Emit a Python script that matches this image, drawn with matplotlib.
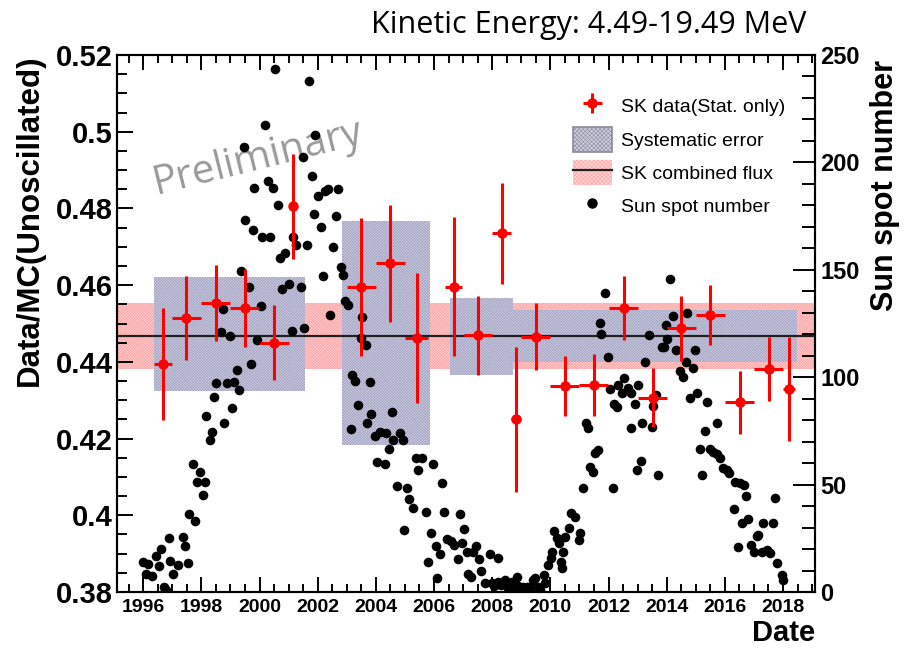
import numpy as np
import matplotlib.pyplot as plt
from matplotlib.patches import Patch
from matplotlib.lines import Line2D
from matplotlib.ticker import MultipleLocator, FuncFormatter, FormatStrFormatter

plt.rcParams['font.family'] = 'Liberation Sans'
plt.rcParams['hatch.linewidth'] = 0.4

# ==========================================
# Data
# ==========================================

# SK yearly points (stat. errors only)
sk_year = [1996.67, 1997.48, 1998.49, 1999.49, 2000.50, 2001.15, 2003.50, 2004.49,
           2005.41, 2006.67, 2007.51, 2008.33, 2008.83, 2009.50, 2010.49, 2011.49,
           2012.52, 2013.52, 2014.50, 2015.50, 2016.51, 2017.51, 2018.21]
sk_val = [0.4394, 0.4514, 0.4553, 0.4541, 0.4450, 0.4806, 0.4596, 0.4657,
          0.4463, 0.4596, 0.4470, 0.4735, 0.4250, 0.4466, 0.4337, 0.4340,
          0.4540, 0.4307, 0.4487, 0.4522, 0.4295, 0.4381, 0.4329]
sk_err = [0.0146, 0.0110, 0.0099, 0.0101, 0.0097, 0.0137, 0.0180, 0.0153,
          0.0169, 0.0182, 0.0103, 0.0132, 0.0190, 0.0087, 0.0078, 0.0080,
          0.0083, 0.0077, 0.0085, 0.0078, 0.0082, 0.0083, 0.0135]
sk_xerr = [0.31, 0.5, 0.5, 0.5, 0.5, 0.12, 0.5, 0.5,
           0.40, 0.29, 0.48, 0.33, 0.17, 0.5, 0.5, 0.5,
           0.5, 0.5, 0.5, 0.5, 0.5, 0.5, 0.2]

# systematic error boxes (SK-I .. SK-IV)
sys_start = [1996.36, 2002.83, 2006.54, 2008.71]
sys_end = [2001.57, 2005.87, 2008.71, 2018.48]
sys_lo = [0.4325, 0.4183, 0.4366, 0.4400]
sys_hi = [0.4622, 0.4768, 0.4567, 0.4535]

# combined flux and its band
flux = 0.4467
flux_lo, flux_hi = 0.4381, 0.4553

# monthly sun spot number
ss_year = [1995.99, 1996.10, 1996.18, 1996.30, 1996.45, 1996.53, 1996.62, 1996.72, 1996.79, 1996.87,
           1996.93, 1997.02, 1997.19, 1997.37, 1997.45, 1997.53, 1997.59, 1997.71, 1997.79, 1997.85,
           1997.96, 1998.05, 1998.13, 1998.17, 1998.28, 1998.36, 1998.44, 1998.51, 1998.67, 1998.74,
           1998.79, 1998.88, 1998.99, 1999.05, 1999.11, 1999.22, 1999.31, 1999.36, 1999.45, 1999.51,
           1999.65, 1999.70, 1999.77, 1999.80, 1999.91, 2000.05, 2000.10, 2000.20, 2000.28, 2000.37,
           2000.45, 2000.54, 2000.63, 2000.71, 2000.77, 2000.86, 2001.00, 2001.11, 2001.14,
           2001.27, 2001.41, 2001.48, 2001.53, 2001.62, 2001.71, 2001.79, 2001.87, 2001.90, 2002.02,
           2002.13, 2002.19, 2002.25, 2002.36, 2002.44, 2002.53, 2002.63, 2002.71, 2002.79, 2002.88,
           2002.94, 2003.05, 2003.13, 2003.17, 2003.28, 2003.37, 2003.48, 2003.54, 2003.66, 2003.70,
           2003.80, 2003.85, 2003.97, 2004.05, 2004.14, 2004.31, 2004.35, 2004.46, 2004.54, 2004.60,
           2004.71, 2004.83, 2004.92, 2004.97, 2005.06, 2005.15, 2005.29, 2005.38, 2005.46, 2005.57,
           2005.72, 2005.80, 2005.88, 2005.97, 2006.07, 2006.11, 2006.20, 2006.29, 2006.34, 2006.43,
           2006.60, 2006.68, 2006.83, 2006.89, 2006.95, 2007.03, 2007.12, 2007.18,
           2007.27, 2007.35, 2007.46, 2007.54, 2007.61, 2007.75, 2007.92, 2007.98, 2008.05, 2008.19,
           2008.21, 2008.32, 2008.44, 2008.55, 2008.67, 2008.78, 2008.84, 2008.90, 2008.95, 2009.07,
           2009.18, 2009.30, 2009.41, 2009.47, 2009.58, 2009.64, 2009.79, 2009.81, 2009.93, 2010.02,
           2010.07, 2010.13, 2010.22, 2010.30, 2010.36, 2010.39, 2010.44, 2010.50, 2010.64, 2010.71,
           2010.85, 2010.98, 2011.02, 2011.13, 2011.21, 2011.30, 2011.36, 2011.48, 2011.53, 2011.63,
           2011.70, 2011.74, 2011.88, 2011.97, 2012.05, 2012.16, 2012.20, 2012.28, 2012.34, 2012.45,
           2012.54, 2012.68, 2012.77, 2012.79, 2012.91, 2012.97, 2013.02, 2013.11, 2013.14, 2013.25,
           2013.40, 2013.48, 2013.54, 2013.63, 2013.71, 2013.83, 2013.91, 2013.97, 2014.02, 2014.11,
           2014.23, 2014.32, 2014.46, 2014.55, 2014.66, 2014.71, 2014.80, 2014.89, 2014.97, 2015.05,
           2015.14, 2015.20, 2015.32, 2015.40, 2015.49, 2015.60, 2015.72, 2015.74, 2015.83, 2015.95,
           2016.06, 2016.15, 2016.32, 2016.35, 2016.46, 2016.52, 2016.58, 2016.66, 2016.73, 2016.81,
           2016.89, 2017.00, 2017.09, 2017.15, 2017.27, 2017.30, 2017.44, 2017.55, 2017.64, 2017.72,
           2017.78, 2017.95, 2017.99]
ss_num = [13.8, 8.2, 13.0, 7.4, 17.0, 12.2, 19.9, 2.5, 1.0, 25.0,
          14.3, 8.2, 12.7, 25.8, 21.5, 13.3, 36.2, 59.7, 33.0, 51.4,
          55.9, 45.0, 51.4, 81.8, 70.6, 74.3, 90.7, 97.1, 121.1, 131.8,
          78.6, 97.1, 119.0, 85.8, 97.9, 103.5, 93.9, 149.4, 207.1, 173.1,
          141.9, 106.2, 168.3, 187.9, 117.4, 133.1, 165.1, 217.2, 191.5, 165.4,
          187.9, 243.6, 180.0, 155.5, 141.1, 157.6, 143.5, 121.4, 165.1,
          161.4, 141.9, 202.3, 123.0, 161.4, 237.7, 193.6, 176.0, 212.8, 184.3,
          169.9, 147.0, 186.7, 187.5, 128.8, 160.6, 175.2, 187.5, 151.5, 147.5,
          135.5, 133.4, 75.9, 101.1, 98.2, 87.0, 118.4, 128.0, 115.2, 78.6,
          97.9, 83.0, 72.6, 60.5, 74.6, 59.4, 73.8, 66.6, 83.8, 70.6,
          49.3, 74.2, 70.6, 29.0, 48.2, 43.4, 38.9, 62.6, 57.0, 62.6,
          37.3, 13.8, 27.7, 59.7, 21.3, 6.3, 17.8, 50.6, 37.3, 24.5,
          23.9, 21.8, 15.4, 36.2, 22.9, 29.3, 18.6, 8.2,
          7.1, 18.8, 21.4, 15.2, 9.9, 4.0, 17.7, 4.0, 3.0, 15.7,
          4.8, 3.5, 5.6, 1.7, 4.8, 0.9, 7.1, 3.0, 1.7, 2.5,
          2.5, 1.7, 5.5, 6.4, 2.5, 0.9, 7.9, 4.0, 12.6, 15.7,
          18.8, 28.5, 25.0, 22.6, 14.1, 11.0, 18.8, 25.5, 29.6, 36.6,
          35.1, 24.2, 27.3, 48.2, 78.5, 76.2, 58.3, 56.0, 64.6, 66.1,
          125.4, 119.9, 139.0, 109.2, 94.3, 48.2, 87.5, 86.0, 96.4, 92.5,
          99.8, 94.8, 92.8, 76.2, 87.5, 56.8, 96.4, 61.1, 78.5, 107.2,
          119.6, 76.7, 86.6, 91.7, 54.5, 114.2, 114.2, 124.3, 117.6, 145.6,
          128.5, 112.7, 103.0, 100.2, 107.2, 130.0, 90.2, 104.1, 112.7, 92.8,
          66.4, 54.5, 75.1, 88.6, 66.4, 65.3, 78.5, 64.2, 62.2, 57.6,
          56.8, 55.2, 38.5, 51.4, 20.8, 50.6, 32.3, 49.8, 44.7, 33.8,
          21.9, 18.8, 26.1, 26.5, 18.8, 32.3, 19.5, 18.0, 32.3, 43.6,
          13.4, 7.9, 5.6]

# ==========================================
# Plot
# ==========================================
fig = plt.figure(figsize=(9.1, 6.57), dpi=100)
ax = fig.add_axes([0.1286, 0.0989, 0.7670, 0.8174])
ax_s = ax.twinx()     # sun spot axis (right)
ax_fg = ax.twinx()    # SK points drawn on top of the dots

band_face, band_hatch = '#ffd4d4', '#ffa0a0'
sys_face, sys_hatch = '#cdcde0', '#a4a4c4'
dense = 'x' * 12

ax.axhspan(flux_lo, flux_hi, facecolor=band_face, edgecolor=band_hatch,
           hatch=dense, linewidth=0, zorder=1)
ax.bar(sys_start, np.subtract(sys_hi, sys_lo), width=np.subtract(sys_end, sys_start),
       bottom=sys_lo, align='edge', facecolor=sys_face, edgecolor=sys_hatch,
       hatch=dense, linewidth=0, zorder=2)
ax.axhline(flux, color='#202020', lw=1.6, zorder=3)

ax_s.scatter(ss_year, ss_num, s=48, color='black', linewidths=0, zorder=3)

err = ax_fg.errorbar(sk_year, sk_val, yerr=sk_err, xerr=sk_xerr, fmt='o', color='red',
                     ms=6.5, elinewidth=2.2, capsize=0)

# axis ranges and ticks, ROOT style
ax.set_xlim(1995.1, 2019.1)
ax.set_ylim(0.38, 0.52)
ax_fg.set_ylim(0.38, 0.52)
ax_s.set_ylim(0, 250)

ax.xaxis.set_major_locator(MultipleLocator(2))
ax.xaxis.set_minor_locator(MultipleLocator(0.5))
ax.xaxis.set_major_formatter(FormatStrFormatter('%d'))
ax.yaxis.set_major_locator(MultipleLocator(0.02))
ax.yaxis.set_minor_locator(MultipleLocator(0.005))
ax.yaxis.set_major_formatter(FuncFormatter(lambda v, p: f'{v:g}'))
ax_s.yaxis.set_major_locator(MultipleLocator(50))
ax_s.yaxis.set_minor_locator(MultipleLocator(10))

ax.tick_params(axis='x', which='both', direction='in', top=True, width=1.4,
               labelsize=14, pad=5)
ax.tick_params(axis='x', which='major', length=11)
ax.tick_params(axis='x', which='minor', length=6)
ax.tick_params(axis='y', which='both', direction='in', right=False, width=1.4,
               labelsize=21, pad=3)
ax.tick_params(axis='y', which='major', length=11.5)
ax.tick_params(axis='y', which='minor', length=7.5)
ax_s.tick_params(axis='y', which='both', direction='in', width=1.4, labelsize=17, pad=4)
ax_s.tick_params(axis='y', which='major', length=15.5)
ax_s.tick_params(axis='y', which='minor', length=9.5)
ax_fg.axis('off')

for t in ax.get_xticklabels() + ax.get_yticklabels() + ax_s.get_yticklabels():
    t.set_fontweight('bold')
for sp in list(ax.spines.values()) + list(ax_s.spines.values()):
    sp.set_linewidth(1.5)

ax.set_xlabel('Date', fontsize=21, fontweight='bold', loc='right')
ax.xaxis.set_label_coords(1.0, -0.05)
ax.set_ylabel('Data/MC(Unoscillated)', fontsize=22.5, fontweight='bold', loc='top')
ax.yaxis.set_label_coords(-0.104, 1.0)
ax_s.set_ylabel('Sun spot number', fontsize=22, fontweight='bold', loc='top')
ax_s.yaxis.set_label_coords(1.079, 0.99)

# legend
sys_handle = Patch(facecolor=sys_face, edgecolor='#8a8a9a', hatch='x' * 8, linewidth=1.2)
band_handle = Patch(facecolor=band_face, edgecolor=band_hatch, hatch='x' * 8, linewidth=0)
line_handle = Line2D([], [], color='#202020', lw=1.6)
dot_handle = Line2D([], [], ls='', marker='o', color='black', ms=6.5)
ax_fg.legend([err, sys_handle, (band_handle, line_handle), dot_handle],
             ['SK data(Stat. only)', 'Systematic error', 'SK combined flux', 'Sun spot number'],
             loc='upper left', bbox_to_anchor=(0.642, 0.943), frameon=False, borderaxespad=0,
             fontsize=14, handlelength=2.0, handleheight=1.6, handletextpad=0.45,
             labelspacing=0.43)

ax.text(0.202, 0.808, 'Preliminary', transform=ax.transAxes, rotation=14, color='#9a9a9a',
        fontsize=29, family='Open Sans', ha='center', va='center', rotation_mode='anchor')
fig.text(0.886, 0.962, 'Kinetic Energy: 4.49-19.49 MeV', ha='right', va='center',
         fontsize=22, family='Open Sans')

fig.savefig('out.png', dpi=100)
